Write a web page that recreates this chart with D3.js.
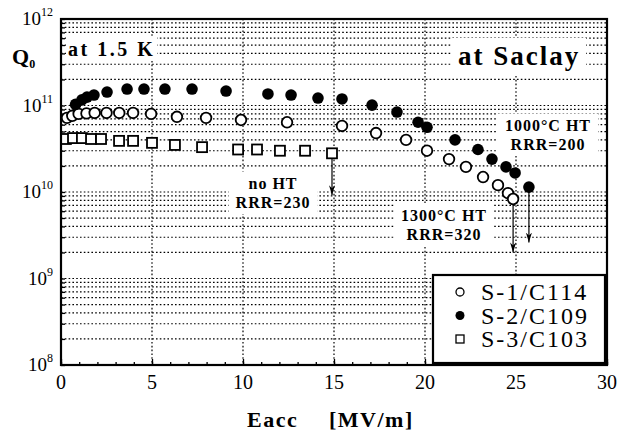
<!DOCTYPE html>
<html>
<head>
<meta charset="utf-8">
<script src="https://cdn.jsdelivr.net/npm/d3@7"></script>
<style>
  body { margin: 0; background: #fff; }
  svg { font-family: "Liberation Serif", "Times New Roman", serif; }
</style>
</head>
<body>
<svg></svg>
<script>
// S-1/C114 (open circles)
const s1E = [0.33, 0.62, 0.97, 1.4, 1.85, 2.5, 3.2, 3.96, 4.95, 6.37, 7.97, 9.89, 12.42, 15.44, 17.31, 18.96, 20.11, 21.32, 22.25, 23.19, 24.01, 24.56, 24.84];
const s1Q = [7.2e10, 7.6e10, 8.0e10, 8.1e10, 8.2e10, 8.2e10, 8.2e10, 8.2e10, 8.0e10, 7.4e10, 7.2e10, 6.8e10, 6.4e10, 5.8e10, 4.8e10, 4.0e10, 3.0e10, 2.4e10, 1.95e10, 1.49e10, 1.2e10, 9.7e9, 8.3e9];
// S-2/C109 (filled circles)
const s2E = [0.8, 1.15, 1.43, 1.81, 2.53, 3.63, 4.56, 5.71, 7.2, 9.07, 11.37, 12.64, 14.12, 15.44, 17.09, 18.46, 19.62, 20.11, 21.65, 22.91, 23.68, 24.45, 24.95, 25.71];
const s2Q = [1.03e11, 1.16e11, 1.25e11, 1.32e11, 1.43e11, 1.55e11, 1.55e11, 1.55e11, 1.55e11, 1.47e11, 1.36e11, 1.32e11, 1.22e11, 1.19e11, 1.01e11, 8.4e10, 6.4e10, 5.6e10, 4.0e10, 3.1e10, 2.4e10, 1.95e10, 1.66e10, 1.14e10];
// S-3/C103 (open squares)
const s3E = [0.27, 0.66, 1.15, 1.65, 2.2, 3.19, 3.96, 5.0, 6.26, 7.75, 9.73, 10.77, 12.03, 13.41, 14.89];
const s3Q = [4.1e10, 4.2e10, 4.2e10, 4.1e10, 4.1e10, 3.9e10, 3.9e10, 3.7e10, 3.5e10, 3.3e10, 3.1e10, 3.1e10, 3.0e10, 3.0e10, 2.8e10];
// where the quench arrows end (Q0)
const arrowEndQ = [2.0e9, 2.6e9, 9.2e9];

const seriesNames = ["S-1/C114", "S-2/C109", "S-3/C103"];
const xTicks = [0, 5, 10, 15, 20, 25, 30];
const yExponents = [8, 9, 10, 11, 12];

const svg = d3.select("svg").attr("width", 629).attr("height", 431);

const margin = { left: 61, top: 19, right: 22, bottom: 66 };
const width = 629 - margin.left - margin.right;
const height = 431 - margin.top - margin.bottom;

const x = d3.scaleLinear().domain([0, 30]).range([0, width]);
const y = d3.scaleLog().domain([1e8, 1e12]).range([height, 0]);

const g = svg.append("g").attr("transform", `translate(${margin.left},${margin.top})`);

// dotted grid
const gridG = g.append("g").attr("stroke", "#000").attr("stroke-width", 1.2).attr("stroke-dasharray", "1.6,2.2");
gridG.selectAll(".hg")
  .data(y.ticks().filter((d) => d > 1e8 && d < 1e12))
  .enter().append("line")
  .attr("x1", 0).attr("x2", width)
  .attr("y1", (d) => y(d)).attr("y2", (d) => y(d));
gridG.selectAll(".vg")
  .data(xTicks.slice(1, -1))
  .enter().append("line")
  .attr("x1", (d) => x(d)).attr("x2", (d) => x(d))
  .attr("y1", 0).attr("y2", height);

// ticks
const xMinor = d3.axisBottom(x).tickValues(d3.range(0, 31)).tickSize(-3).tickFormat("");
const xMajor = d3.axisBottom(x).tickValues(xTicks).tickSize(-6).tickFormat("");
const yMinor = d3.axisLeft(y).tickValues(y.ticks()).tickSize(-4).tickFormat("");
g.append("g").attr("transform", `translate(0,${height})`).call(xMinor).call((a) => a.select(".domain").remove());
g.append("g").attr("transform", `translate(0,${height})`).call(xMajor).call((a) => a.select(".domain").remove());
g.append("g").call(yMinor).call((a) => a.select(".domain").remove());
g.selectAll(".tick line").attr("stroke", "#000").attr("stroke-width", 1.3);

// x tick labels
g.selectAll(".xl")
  .data(xTicks)
  .enter().append("text")
  .attr("x", (d) => x(d))
  .attr("y", height + 24)
  .attr("text-anchor", "middle")
  .attr("font-size", 20)
  .text((d) => d);

// y tick labels with superscripts
yExponents.forEach((e) => {
  const t = g.append("text")
    .attr("x", -8)
    .attr("y", y(Math.pow(10, e)) + 6)
    .attr("text-anchor", "end")
    .attr("font-size", 19);
  t.append("tspan").text("10");
  t.append("tspan").attr("font-size", 12).attr("dy", -9).text(e);
});

// annotations with white boxes
const annotate = (lines, cx, baseline, size, lineGap, spacing, anchor, pad) => {
  const ag = g.append("g");
  const bg = ag.append("rect").attr("fill", "#fff");
  lines.forEach((txt, i) => {
    ag.append("text")
      .attr("x", cx).attr("y", baseline + i * lineGap)
      .attr("text-anchor", anchor)
      .attr("font-weight", "bold")
      .attr("font-size", size)
      .attr("letter-spacing", spacing)
      .text(txt);
  });
  const b = ag.node().getBBox();
  bg.attr("x", b.x - pad).attr("y", b.y - pad / 2)
    .attr("width", b.width + pad * 2).attr("height", b.height + pad);
};

annotate(["at 1.5 K"], 7, 37, 20, 0, 2.5, "start", 2);
annotate(["at Saclay"], 397, 46, 27, 0, 2, "start", 6);
annotate(["1000°C HT", "RRR=200"], 487, 112, 16, 18.5, 1, "middle", 7);
annotate(["no HT", "RRR=230"], 212, 170, 16, 18.5, 1, "middle", 7);
annotate(["1300°C HT", "RRR=320"], 383, 202, 16, 18.5, 1, "middle", 7);

// quench arrows
svg.append("defs").append("marker")
  .attr("id", "head")
  .attr("viewBox", "0 0 10 6")
  .attr("refX", 10).attr("refY", 3)
  .attr("markerWidth", 10).attr("markerHeight", 6)
  .attr("markerUnits", "userSpaceOnUse")
  .attr("orient", "auto")
  .append("path").attr("d", "M0,0 L10,3 L0,6 L3,3 Z").attr("fill", "#000");

const lastPts = [
  [s1E[s1E.length - 1], s1Q[s1Q.length - 1]],
  [s2E[s2E.length - 1], s2Q[s2Q.length - 1]],
  [s3E[s3E.length - 1], s3Q[s3Q.length - 1]],
];
g.selectAll(".arrow")
  .data(lastPts)
  .enter().append("line")
  .attr("x1", (d) => x(d[0])).attr("x2", (d) => x(d[0]))
  .attr("y1", (d) => y(d[1]))
  .attr("y2", (d, i) => y(arrowEndQ[i]))
  .attr("stroke", "#000").attr("stroke-width", 1.2)
  .attr("marker-end", "url(#head)");

// data
const pts = (E, Q) => E.map((e, i) => ({ e, q: Q[i] }));
g.selectAll(".s3")
  .data(pts(s3E, s3Q))
  .enter().append("rect")
  .attr("x", (d) => x(d.e) - 5).attr("y", (d) => y(d.q) - 5)
  .attr("width", 10).attr("height", 10)
  .attr("fill", "#fff").attr("stroke", "#000").attr("stroke-width", 1.8);
g.selectAll(".s1")
  .data(pts(s1E, s1Q))
  .enter().append("circle")
  .attr("cx", (d) => x(d.e)).attr("cy", (d) => y(d.q)).attr("r", 5.3)
  .attr("fill", "#fff").attr("stroke", "#000").attr("stroke-width", 1.8);
g.selectAll(".s2")
  .data(pts(s2E, s2Q))
  .enter().append("circle")
  .attr("cx", (d) => x(d.e)).attr("cy", (d) => y(d.q)).attr("r", 5.8)
  .attr("fill", "#000");

// legend
const lg = g.append("g").attr("transform", `translate(${width - 174},${height - 90})`);
lg.append("rect").attr("width", 172).attr("height", 88)
  .attr("fill", "#fff").attr("stroke", "#000").attr("stroke-width", 2.2);
seriesNames.forEach((name, i) => {
  const cy = 17 + i * 23.5;
  if (i === 0) lg.append("circle").attr("cx", 27).attr("cy", cy).attr("r", 4).attr("fill", "#fff").attr("stroke", "#000").attr("stroke-width", 1.3);
  if (i === 1) lg.append("circle").attr("cx", 27).attr("cy", cy).attr("r", 4.5).attr("fill", "#000");
  if (i === 2) lg.append("rect").attr("x", 23).attr("y", cy - 4).attr("width", 8).attr("height", 8).attr("fill", "#fff").attr("stroke", "#000").attr("stroke-width", 1.3);
  lg.append("text")
    .attr("x", 48).attr("y", cy + 8)
    .attr("font-size", 24)
    .attr("letter-spacing", 2)
    .text(name);
});

// frame
g.append("rect").attr("width", width).attr("height", height)
  .attr("fill", "none").attr("stroke", "#000").attr("stroke-width", 2.2);

// axis titles
const yt = svg.append("text").attr("x", 12).attr("y", 64).attr("font-weight", "bold").attr("font-size", 22);
yt.append("tspan").text("Q");
yt.append("tspan").attr("font-size", 12).attr("dy", 4).text("0");

const xt = svg.append("text").attr("x", 247).attr("y", 427).attr("font-weight", "bold").attr("font-size", 22).attr("letter-spacing", 1.5);
xt.append("tspan").text("Eacc");
xt.append("tspan").attr("x", 329).text("[MV/m]");
</script>
</body>
</html>
